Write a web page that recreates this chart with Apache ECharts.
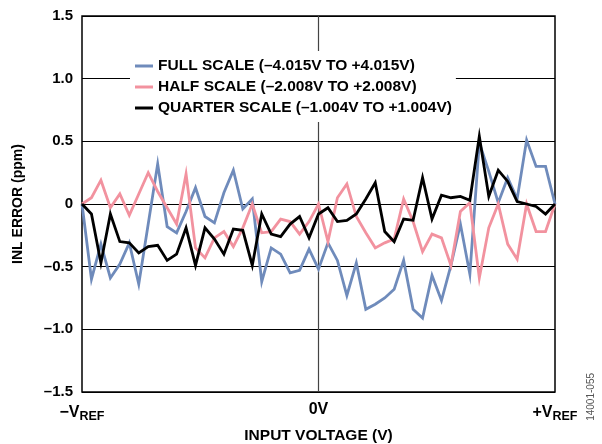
<!DOCTYPE html>
<html>
<head>
<meta charset="utf-8">
<script src="https://cdn.jsdelivr.net/npm/echarts@6/dist/echarts.min.js"></script>
<style>html,body{margin:0;padding:0;background:#fff;}#c{width:602px;height:444px;}</style>
</head>
<body>
<div id="c"></div>
<script>
// 51 evenly spaced input codes from -VREF to +VREF
const categories = Array.from({length: 51}, (_, i) => i);
const tickLabels = ['−V{sub|REF}', '0V', '+V{sub|REF}'];
const tickIndex = [0, 25, 50];

const fullScale = [0, -0.60, -0.32, -0.59, -0.48, -0.31, -0.64, -0.16, 0.32, -0.18,
  -0.23, -0.06, 0.13, -0.10, -0.15, 0.09, 0.27, -0.04, 0.04, -0.62,
  -0.35, -0.40, -0.55, -0.53, -0.36, -0.52, -0.31, -0.45, -0.73, -0.47,
  -0.84, -0.80, -0.75, -0.68, -0.45, -0.84, -0.91, -0.57, -0.77, -0.49,
  -0.16, -0.56, 0.49, 0.26, 0.01, 0.21, 0.04, 0.51, 0.30, 0.30, 0.00];
const halfScale = [0, 0.05, 0.19, -0.03, 0.08, -0.09, 0.08, 0.25, 0.10, -0.03,
  -0.16, 0.24, -0.35, -0.43, -0.27, -0.22, -0.34, -0.19, 0.00, -0.23,
  -0.22, -0.12, -0.14, -0.24, -0.14, 0.00, -0.30, 0.05, 0.16, -0.10,
  -0.23, -0.35, -0.31, -0.28, 0.04, -0.14, -0.38, -0.24, -0.27, -0.49,
  -0.06, 0.01, -0.59, -0.19, 0.00, -0.32, -0.44, 0.00, -0.22, -0.22, 0.00];
const quarterScale = [0, -0.08, -0.47, -0.08, -0.30, -0.31, -0.39, -0.34, -0.33, -0.45,
  -0.40, -0.19, -0.49, -0.19, -0.28, -0.40, -0.20, -0.21, -0.49, -0.08,
  -0.24, -0.26, -0.16, -0.10, -0.27, -0.08, -0.03, -0.14, -0.13, -0.08,
  0.04, 0.17, -0.22, -0.30, -0.12, -0.13, 0.21, -0.12, 0.07, 0.05,
  0.06, 0.03, 0.54, 0.06, 0.27, 0.18, 0.02, 0.00, -0.02, -0.08, 0.00];
const seriesNames = ['FULL SCALE (–4.015V TO +4.015V)', 'HALF SCALE (–2.008V TO +2.008V)', 'QUARTER SCALE (–1.004V TO +1.004V)'];
const seriesColors = ['#6f8bbb', '#f2929f', '#000000'];

const FONT = '"Liberation Sans", Arial, Helvetica, sans-serif';
const chart = echarts.init(document.getElementById('c'), null, {renderer: 'canvas'});
const data = [fullScale, halfScale, quarterScale];

chart.setOption({
  animation: false,
  backgroundColor: '#fff',
  grid: {left: 82, right: 47, top: 16, bottom: 52, show: true, borderColor: '#000', borderWidth: 1.5,
         backgroundColor: 'transparent', containLabel: false, outerBoundsMode: 'none'},
  legend: {
    orient: 'vertical', left: 130, top: 51,
    padding: [7, 4, 6, 5],
    backgroundColor: '#fff',
    itemWidth: 18, itemHeight: 3, itemGap: 5,
    icon: 'rect',
    textStyle: {fontFamily: FONT, fontWeight: 'bold', fontSize: 15.5, color: '#000', lineHeight: 16, padding: [0, 0, 0, 0]},
    data: seriesNames
  },
  xAxis: {
    type: 'category', data: categories, boundaryGap: false,
    name: 'INPUT VOLTAGE (V)', nameLocation: 'middle', nameGap: 31,
    nameTextStyle: {fontFamily: FONT, fontWeight: 'bold', fontSize: 15.5, color: '#000'},
    axisLine: {show: false}, axisTick: {show: false},
    axisLabel: {
      interval: (i) => tickIndex.includes(i),
      margin: 10,
      formatter: (v, i) => { const k = tickIndex.indexOf(Number(v)); return k >= 0 ? tickLabels[k] : ''; },
      fontFamily: FONT, fontWeight: 'bold', fontSize: 16, color: '#000',
      rich: {sub: {fontFamily: FONT, fontWeight: 'bold', fontSize: 12.5, color: '#000', verticalAlign: 'bottom', padding: [8, 0, 0, 0]}}
    },
    splitLine: {show: true, interval: (i) => i === 25, lineStyle: {color: '#444', width: 1.2}}
  },
  yAxis: {
    type: 'value', min: -1.5, max: 1.5, interval: 0.5,
    name: 'INL ERROR (ppm)', nameLocation: 'middle', nameGap: 57, nameRotate: 90,
    nameTextStyle: {fontFamily: FONT, fontWeight: 'bold', fontSize: 14, color: '#000'},
    axisLine: {show: false}, axisTick: {show: false},
    axisLabel: {
      margin: 9, fontFamily: FONT, fontWeight: 'bold', fontSize: 15, color: '#000',
      formatter: (v) => v === 0 ? '0' : v.toFixed(1).replace('-', '–')
    },
    splitLine: {show: true, lineStyle: {color: '#000', width: 1.2}}
  },
  series: data.map((d, k) => ({
    name: seriesNames[k], type: 'line', data: d,
    showSymbol: false, symbol: 'none', smooth: false,
    lineStyle: {color: seriesColors[k], width: 2.8, join: 'miter'},
    itemStyle: {color: seriesColors[k]}
  })),
  graphic: [{
    type: 'text', left: 586, top: 373, rotation: Math.PI / 2,
    style: {text: '14001-055', fontFamily: FONT, fontSize: 10, fill: '#555'}
  }]
});
</script>
</body>
</html>
